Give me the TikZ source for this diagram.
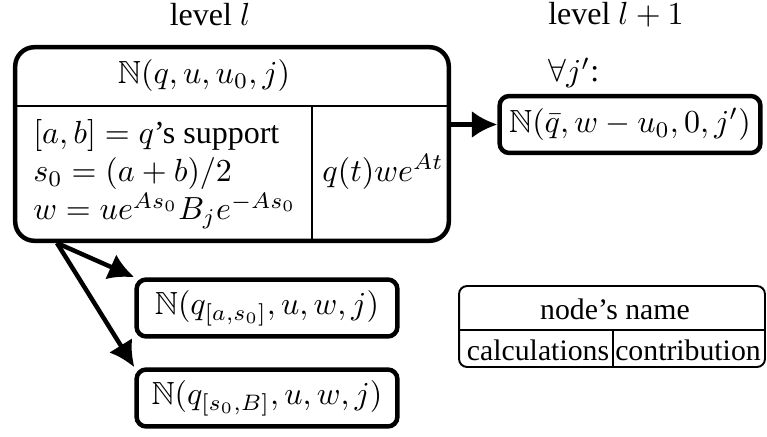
\documentclass[tikz,border=0pt]{standalone}
\usepackage[no-math]{fontspec}
\setmainfont{Liberation Serif}
\usepackage{amssymb}
\usetikzlibrary{arrows.meta,calc}
\begin{document}
\begin{tikzpicture}[
    x=0.3125pt, y=-0.3125pt,
    bigbox/.style={draw, line width=1.4pt, rounded corners=6pt, minimum width=135.5pt, minimum height=60.5pt, inner sep=0pt},
    kid/.style={draw, line width=1.4pt, rounded corners=3pt, minimum width=81.5pt, minimum height=17.8pt, inner sep=0pt},
    legbox/.style={draw, semithick, rounded corners=2.5pt, minimum width=95.6pt, minimum height=25.3pt, inner sep=0pt},
    legtext/.style={inner sep=1pt, font=\fontsize{9.3}{11}\selectfont},
    divider/.style={semithick},
    arr/.style={line width=1.4pt, -{Latex[length=8pt,width=8.5pt]}},
  ]
    \useasboundingbox (0,0) rectangle (767,436);

    % === level l ===
    \node (lvl) at (210,15) {level $l$};
    \node[bigbox] (big) at (232,144) {};
    \coordinate (hline) at (0,106);
    \coordinate (vline) at (312,0);
    \draw[divider] (big.west |- hline) -- (big.east |- hline);
    \draw[divider] (vline |- hline) -- (vline |- big.south);
    \node (bighead) at (204,76) {$\mathbb{N}(q,u,u_0,j)$};
    \node[align=left, anchor=west] (bigcalc) at (22,174) {$[a,b]=q$'s support\\ $s_0=(a+b)/2$\\ $w=ue^{As_0}B_je^{-As_0}$};
    \node (bigcontr) at (383,172) {$q(t)we^{At}$};

    % === level l+1 ===
    \node (lvlnext) at (616,15) {level $l+1$};
    \node[inner sep=1pt] (forall) at (574,73) {$\forall j'$:};
    \node[kid] (next) at (630,124.5) {$\mathbb{N}(\bar{q},w-u_0,0,j')$};
    \draw[arr] (big.east |- next.west) -- (next.west);

    % split into halves
    \node[kid] (halfa) at (267,308) {$\mathbb{N}(q_{[a,s_0]},u,w,j)$};
    \node[kid] (halfb) at (267,398) {$\mathbb{N}(q_{[s_0,B]},u,w,j)$};
    \coordinate (split) at ($(big.south west)+(44,0)$);
    \draw[arr] (split) -- (halfa.north west);
    \draw[arr] (split) -- (halfb.north west);

    % Legend
    \node[legbox] (legend) at (612,326.5) {};
    \coordinate (leghline) at (0,330);
    \coordinate (legvline) at (613,0);
    \draw[divider] (legend.west |- leghline) -- (legend.east |- leghline);
    \draw[divider] (legvline |- leghline) -- (legvline |- legend.south);
    \node[legtext] (legname) at (615,309) {node's name};
    \node[legtext] (legcalc) at (538,350) {calculations};
    \node[legtext] (legcontr) at (688,350) {contribution};
  \end{tikzpicture}
\end{document}
